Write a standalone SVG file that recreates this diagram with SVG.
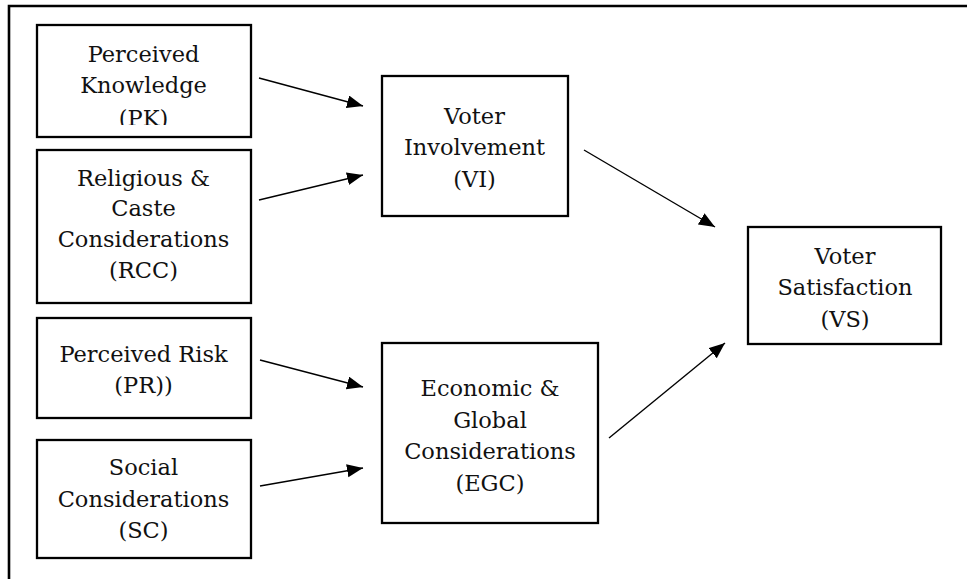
<svg xmlns="http://www.w3.org/2000/svg" width="967" height="579" viewBox="0 0 967 579">
<style>
.box{fill:#fff;stroke:#000;stroke-width:2.3}
.t{font-family:"DejaVu Serif","Liberation Serif",serif;font-size:22.5px;fill:#111;text-anchor:middle}
.c{stroke:#000;stroke-width:1.4;fill:none;marker-end:url(#ah)}
</style>
<defs>
<marker id="ah" markerUnits="userSpaceOnUse" markerWidth="18" markerHeight="14" refX="16" refY="6.5" orient="auto">
<path d="M0,0 L16,6.5 L0,13 z" fill="#000"/>
</marker>
<clipPath id="pkclip"><rect x="36" y="24" width="215" height="101"/></clipPath>
</defs>
<rect width="967" height="579" fill="#fff"/>
<path d="M9,579 V6 H967" fill="none" stroke="#000" stroke-width="2.6"/>
<g id="PK">
<rect class="box" x="37" y="25" width="214" height="112"/>
<g clip-path="url(#pkclip)">
<text class="t" x="143.5" y="62">Perceived</text>
<text class="t" x="143.5" y="93">Knowledge</text>
<text class="t" x="143.5" y="126">(PK)</text>
</g>
</g>
<g id="RCC">
<rect class="box" x="37" y="150" width="214" height="153"/>
<text class="t" x="143.5" y="186">Religious &amp;</text>
<text class="t" x="143.5" y="216">Caste</text>
<text class="t" x="143.5" y="247">Considerations</text>
<text class="t" x="143.5" y="278">(RCC)</text>
</g>
<g id="PR">
<rect class="box" x="37" y="318" width="214" height="100"/>
<text class="t" x="143.5" y="362">Perceived Risk</text>
<text class="t" x="143.5" y="393">(PR))</text>
</g>
<g id="SC">
<rect class="box" x="37" y="440" width="214" height="118"/>
<text class="t" x="143.5" y="475">Social</text>
<text class="t" x="143.5" y="507">Considerations</text>
<text class="t" x="143.5" y="538">(SC)</text>
</g>
<g id="VI">
<rect class="box" x="382" y="76" width="186" height="140"/>
<text class="t" x="474.5" y="124">Voter</text>
<text class="t" x="474.5" y="155">Involvement</text>
<text class="t" x="474.5" y="187">(VI)</text>
</g>
<g id="EGC">
<rect class="box" x="382" y="343" width="216" height="180"/>
<text class="t" x="490" y="396">Economic &amp;</text>
<text class="t" x="490" y="428">Global</text>
<text class="t" x="490" y="459">Considerations</text>
<text class="t" x="490" y="491">(EGC)</text>
</g>
<g id="VS">
<rect class="box" x="748" y="227" width="193" height="117"/>
<text class="t" x="845" y="264">Voter</text>
<text class="t" x="845" y="295">Satisfaction</text>
<text class="t" x="845" y="327">(VS)</text>
</g>
<g id="connectors">
<line class="c" x1="259" y1="78" x2="363" y2="106"/>
<line class="c" x1="259" y1="200" x2="363" y2="175"/>
<line class="c" x1="260" y1="360" x2="363" y2="387"/>
<line class="c" x1="260" y1="486" x2="363" y2="468"/>
<line class="c" x1="584" y1="150" x2="715" y2="227"/>
<line class="c" x1="609" y1="438" x2="725" y2="343"/>
</g>
</svg>
